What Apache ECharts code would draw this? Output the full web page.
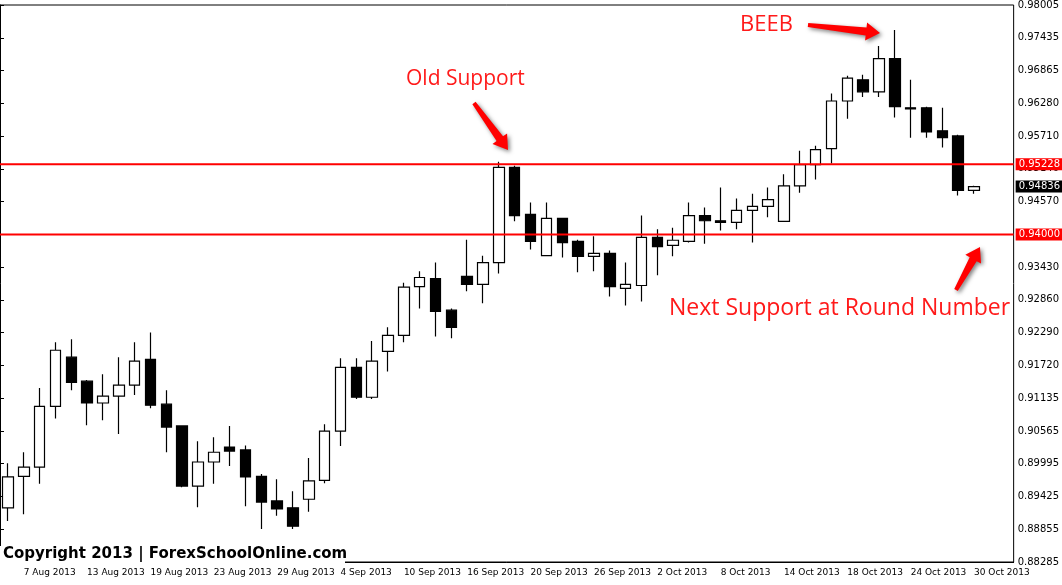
<!DOCTYPE html>
<html><head><meta charset="utf-8">
<script src="https://cdn.jsdelivr.net/npm/echarts@6/dist/echarts.min.js"></script>
<style>html,body{margin:0;padding:0;background:#fff}#c{width:1062px;height:585px}</style>
</head><body><div id="c"></div>
<script>
const dates = [];
(function(){const m=['Jan','Feb','Mar','Apr','May','Jun','Jul','Aug','Sep','Oct','Nov','Dec'];
 let d=new Date(Date.UTC(2013,7,6));while(dates.length<62){const w=d.getUTCDay();if(w!==0&&w!==6)dates.push(d.getUTCDate()+' '+m[d.getUTCMonth()]+' 2013');d=new Date(d.getTime()+86400000);}})();
const opens  = [.8923,.8978,.8994,.9100,.9186,.9144,.9106,.9118,.9137,.9182,.9104,.9066,.8961,.9003,.9029,.9024,.8978,.8935,.8923,.8938,.8971,.9057,.9168,.9116,.9196,.9224,.9309,.9323,.9268,.9327,.9313,.9351,.9517,.9435,.9363,.9428,.9388,.9362,.9367,.9306,.9311,.9395,.9381,.9388,.9433,.9424,.9421,.9442,.9449,.9423,.9485,.9522,.9550,.9633,.9670,.9649,.9707,.9621,.9621,.9581,.9572,.9477];
const closes = [.8977,.8994,.9100,.9198,.9142,.9106,.9118,.9137,.9179,.9102,.9064,.8961,.9003,.9020,.9022,.8977,.8933,.8921,.8891,.8970,.9057,.9168,.9116,.9179,.9224,.9308,.9325,.9266,.9238,.9313,.9351,.9517,.9433,.9388,.9428,.9386,.9362,.9367,.9309,.9313,.9395,.9379,.9390,.9433,.9424,.9421,.9442,.9449,.9461,.9485,.9522,.9548,.9633,.9673,.9649,.9707,.9623,.9619,.9579,.9569,.9477,.94836];
const lows   = [.8900,.8912,.8965,.9079,.9128,.9067,.9076,.9052,.9120,.9097,.9020,.8959,.8924,.8965,.8996,.8926,.8886,.8909,.8886,.8916,.8966,.9031,.9113,.9113,.9161,.9212,.9271,.9222,.9219,.9301,.9280,.9332,.9423,.9374,.9363,.9360,.9334,.9336,.9292,.9276,.9283,.9329,.9362,.9386,.9384,.9407,.9409,.9386,.9430,.9423,.9473,.9496,.9524,.9602,.9640,.9640,.9604,.9569,.9569,.9552,.9468,.9471];
const highs  = [.9001,.9020,.9132,.9212,.9217,.9146,.9156,.9186,.9212,.9229,.9128,.9067,.9039,.9046,.9066,.9032,.8982,.8973,.8952,.9010,.9069,.9184,.9184,.9214,.9238,.9316,.9336,.9351,.9271,.9391,.9363,.9527,.9520,.9456,.9456,.9428,.9391,.9397,.9372,.9351,.9433,.9409,.9412,.9456,.9447,.9482,.9463,.9471,.9482,.9505,.9546,.9555,.9646,.9677,.9679,.9729,.9757,.9670,.9623,.9621,.9574,.9485];
const yTicks = ['0.88285','0.88855','0.89425','0.89995','0.90565','0.91135','0.91720','0.92290','0.92860','0.93430','0.94000','0.94570','0.95140','0.95710','0.96280','0.96865','0.97435','0.98005'];
const levels = [0.95228, 0.94000];
const lastPrice = 0.94836;

const chart = echarts.init(document.getElementById('c'));
const ymin = 0.88285, ymax = 0.98005, step = (ymax-ymin)/17;
const arrowStyle = {fill:'#ff0000', shadowBlur:4, shadowColor:'rgba(0,0,0,0.5)', shadowOffsetX:2, shadowOffsetY:2};
function arrow(x1,y1,x2,y2){
  const a=Math.atan2(y2-y1,x2-x1), L=Math.hypot(x2-x1,y2-y1);
  return {type:'polygon', x:x1, y:y1, rotation:-a, shape:{points:[[0,-2],[L-14,-4],[L-14,-9],[L,0],[L-14,9],[L-14,4],[0,2]]}, style:arrowStyle, z:10};
}
function level(v, color, bg, w){
  return {type:'line', xAxisIndex:1, data:[[0,v],[1,v]], symbol:'none', silent:true, z:5,
    lineStyle:{color:color, width:w},
    endLabel:{show:true, formatter:v.toFixed(5), backgroundColor:bg, color:'#fff', fontSize:10, fontFamily:'DejaVu Sans', padding:[1,3], distance:2}};
}
chart.setOption({
  animation:false,
  grid:{left:0,right:42,top:3,bottom:23,show:true,borderColor:'#000',borderWidth:1},
  xAxis:[{type:'category',data:dates,max:63,boundaryGap:true,
    axisLine:{lineStyle:{color:'#000'}},
    axisTick:{alignWithLabel:true,interval:(i)=>i%4===1,lineStyle:{color:'#000'},length:4},
    axisLabel:{interval:(i)=>i%4===1,align:'left',color:'#000',fontFamily:'DejaVu Sans',fontSize:9,margin:6},
    splitLine:{show:false}},
    {type:'value',min:0,max:1,show:false}],
  yAxis:{type:'value',position:'right',min:ymin,max:ymax,interval:step,
    axisLine:{show:true,lineStyle:{color:'#000'}},
    axisTick:{show:true,lineStyle:{color:'#000'},length:4},
    axisLabel:{color:'#000',fontFamily:'DejaVu Sans',fontSize:10,margin:4,
      formatter:(v)=>{const i=Math.round((v-ymin)/step);return yTicks[i]||'';}},
    splitLine:{show:false}},
  series:[{type:'candlestick',barWidth:11,
    data:opens.map((o,i)=>[o,closes[i],lows[i],highs[i]]),
    itemStyle:{color:'#fff',color0:'#000',borderColor:'#000',borderColor0:'#000',borderWidth:1.2}},
    level(levels[0],'#ff0000','#ff0000',2),
    level(levels[1],'#ff0000','#ff0000',2),
    level(lastPrice,'rgba(0,0,0,0)','#000',0)
  ],
  graphic:[
    {type:'text',left:406,top:69,style:{text:'Old Support',fill:'#ff1a1a',font:'21px "Open Sans", sans-serif'},z:10},
    {type:'text',left:740,top:14,style:{text:'BEEB',fill:'#ff1a1a',font:'22px "Open Sans", sans-serif'},z:10},
    {type:'text',left:669,top:297,style:{text:'Next Support at Round Number',fill:'#ff1a1a',font:'23px "Open Sans", sans-serif'},z:10},
    arrow(474,103,508,150),
    arrow(808,25,880,33),
    arrow(956,290,980,247),
    {type:'rect',left:0,top:546,shape:{width:345,height:20},style:{fill:'#fff'},z:9},
    {type:'text',left:3,top:547,style:{text:'Copyright 2013 | ForexSchoolOnline.com',fill:'#000',font:'bold 15px "DejaVu Sans", sans-serif'},z:10}
  ]
});
</script></body></html>
